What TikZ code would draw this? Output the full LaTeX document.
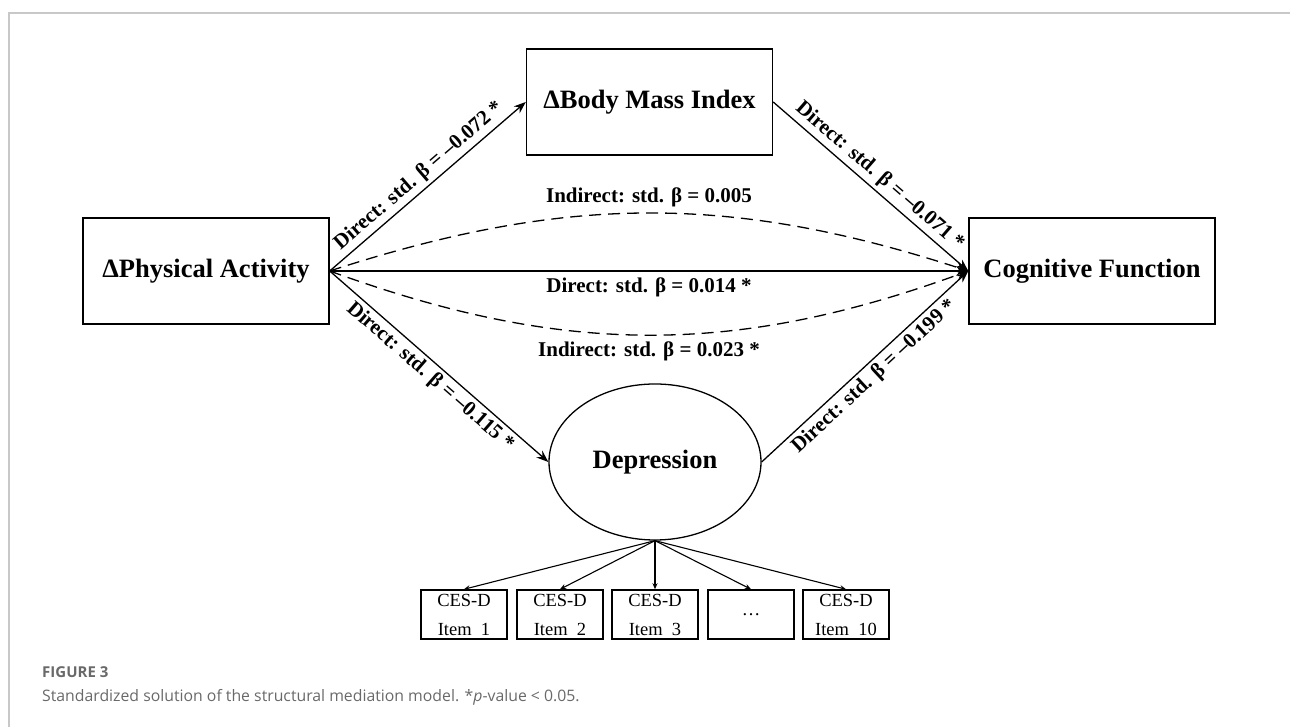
\documentclass[tikz,border=0pt]{standalone}
\usepackage{fontspec}
\setmainfont{Liberation Serif}
\newfontfamily\capfont{Open Sans}
\usetikzlibrary{arrows.meta,shapes.geometric}

\definecolor{framegray}{RGB}{200,200,200}
\definecolor{capgray}{RGB}{105,105,105}

\tikzset{
  varbox/.style={draw, line width=1.4pt, minimum width=246pt, minimum height=106pt, inner sep=0pt, font=\bfseries\fontsize{26.5}{30}\selectfont},
  latent/.style={draw, ellipse, line width=1.3pt, minimum width=212pt, minimum height=156pt, inner sep=0pt, font=\bfseries\fontsize{26.5}{30}\selectfont},
  itembox/.style={draw, line width=1.5pt, minimum width=86pt, minimum height=49pt, inner sep=0pt, align=center, font=\fontsize{18.5}{29}\selectfont},
  effect/.style={line width=1.3pt, -{Stealth[length=12pt,width=9pt]}},
  indirect/.style={effect, dash pattern=on 12pt off 7pt},
  loading/.style={line width=1.1pt, -{Stealth[length=6pt,width=5pt]}},
  coef/.style={font=\bfseries\fontsize{21}{24}\selectfont},
  captext/.style={anchor=west, inner sep=0pt, text=capgray, font=\capfont\fontsize{15.8}{18}\selectfont}
}

\begin{document}
\begin{tikzpicture}[x=1pt,y=1pt]

\useasboundingbox (0,0) rectangle (1290,727);

\draw[framegray, line width=1.5pt] (9,0)--(9,714)--(1290,714);

\node[varbox] (pa) at (206,456) {ΔPhysical Activity};
\node[varbox] (bmi) at (649.5,625) {ΔBody Mass Index};
\node[varbox] (cog) at (1092,456) {Cognitive Function};
\node[latent] (dep) at (655,265) {Depression};

\node[itembox] (i1) at (464,112.5) {CES-D\\Item\enspace 1};
\node[itembox] (i2) at (560,112.5) {CES-D\\Item\enspace 2};
\node[itembox] (i3) at (655,112.5) {CES-D\\Item\enspace 3};
\node[itembox] (i4) at (751,112.5) {\dots};
\node[itembox] (i5) at (846,112.5) {CES-D\\Item\enspace 10};

\draw[effect] (pa.east) -- (bmi.west) node[coef, midway, sloped, above] {Direct: std. β = –0.072 *};
\draw[effect] (bmi.east) -- (cog.west) node[coef, midway, sloped, above] {Direct: std. β = –0.071 *};
\draw[indirect] (pa.east) to[bend left=18] node[coef, midway, above=2pt] {Indirect: std. β = 0.005} (cog.west);
\draw[effect] (pa.east) -- (cog.west) node[coef, midway, below=3pt] {Direct: std. β = 0.014 *};
\draw[indirect] (pa.east) to[bend right=20] node[coef, midway, below=3pt] {Indirect: std. β = 0.023 *} (cog.west);
\draw[effect] (pa.east) -- (dep.west) node[coef, midway, sloped, below] {Direct: std. β = –0.115 *};
\draw[effect] (dep.east) -- (cog.west) node[coef, midway, sloped, below] {Direct: std. β = –0.199 *};

\draw[loading] (dep.south) -- (i1.north);
\draw[loading] (dep.south) -- (i2.north);
\draw[loading] (dep.south) -- (i3.north);
\draw[loading] (dep.south) -- (i4.north);
\draw[loading] (dep.south) -- (i5.north);

\node[captext, font=\capfont\bfseries\fontsize{15}{18}\selectfont] (fignum) at (42,55) {FIGURE 3};
\node[captext] (caption) at (42,30) {Standardized solution of the structural mediation model. *\textit{p}-value < 0.05.};

\end{tikzpicture}
\end{document}
